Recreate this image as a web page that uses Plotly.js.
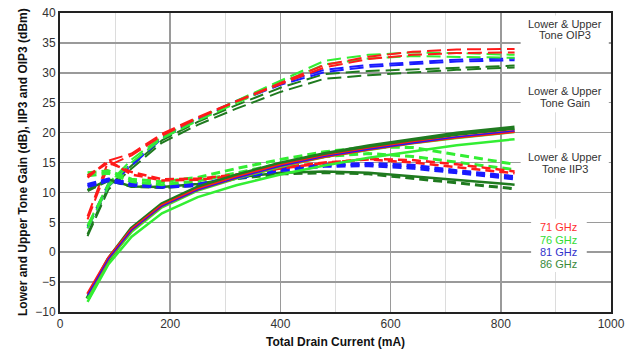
<!DOCTYPE html>
<html><head><meta charset="utf-8">
<script src="https://cdn.plot.ly/plotly-3.0.1.min.js"></script>
<style>html,body{margin:0;padding:0;background:#fff}#chart{width:635px;height:352px}</style>
</head><body><div id="chart"></div>
<script>
// Total drain current (mA)
const current = [50, 88, 130, 185, 250, 320, 400, 480, 560, 640, 720, 825];

// Gain (dB) - solid
const gain71   = [-7.0, -1.0, 3.8, 7.8, 10.5, 12.5, 14.5, 16.0, 17.2, 18.3, 19.2, 20.2];
const gain76L  = [-8.3, -2.0, 2.6, 6.5, 9.2, 11.2, 13.0, 14.5, 15.8, 16.9, 17.9, 18.9];
const gain76U  = [-7.8, -1.3, 3.4, 7.5, 10.3, 12.3, 14.3, 15.9, 17.1, 18.2, 19.1, 20.1];
const gain81   = [-7.2, -1.1, 3.7, 7.7, 10.4, 12.4, 14.4, 16.0, 17.2, 18.3, 19.3, 20.3];
const gain86   = [-7.8, -1.2, 3.9, 8.0, 10.8, 12.8, 14.8, 16.4, 17.7, 18.8, 19.8, 20.8];

// IIP3 (dBm) - short dash
const iip3_71L = [12.5, 15.3, 13.0, 12.0, 12.1, 12.8, 14.0, 14.9, 15.6, 15.4, 14.7, 13.5];
const iip3_71U = [12.8, 15.0, 13.4, 12.2, 12.3, 13.0, 14.2, 15.0, 15.5, 15.0, 14.2, 13.2];
const iip3_76U = [13.3, 13.6, 12.2, 11.8, 12.5, 14.0, 15.5, 16.8, 17.6, 17.5, 16.3, 14.7];
const iip3_76L = [12.8, 13.2, 11.8, 11.3, 11.9, 13.2, 14.8, 16.0, 16.5, 16.0, 15.0, 13.8];
const iip3_81L = [11.3, 12.2, 11.5, 11.0, 11.3, 12.5, 14.0, 14.6, 14.8, 14.5, 13.6, 12.6];
const iip3_81U = [11.0, 12.0, 11.2, 10.9, 11.2, 12.3, 13.7, 14.4, 14.5, 14.1, 13.3, 12.3];
const iip3_86L = [10.3, 12.0, 11.0, 10.8, 11.2, 12.3, 13.1, 13.3, 13.1, 12.4, 11.6, 10.6];
const iip3_86U = [10.4, 12.2, 11.0, 10.9, 11.4, 12.5, 13.3, 13.5, 13.3, 12.7, 12.0, 11.3];

// OIP3 (dBm) - long dash
const oip3_71L = [6.0, 15.3, 16.5, 19.8, 22.6, 25.3, 28.3, 31.3, 32.7, 33.5, 33.9, 34.0];
const oip3_71U = [5.5, 14.5, 16.2, 19.5, 22.4, 25.2, 28.1, 30.9, 32.3, 33.0, 33.3, 33.4];
const oip3_76U = [4.5, 11.5, 15.5, 19.3, 22.4, 25.3, 28.7, 32.0, 33.0, 33.4, 33.3, 33.0];
const oip3_76L = [4.0, 11.0, 15.0, 19.0, 22.0, 25.0, 28.3, 31.4, 32.4, 32.8, 32.7, 32.5];
const oip3_81L = [4.3, 11.5, 14.8, 19.2, 22.4, 25.3, 28.3, 30.5, 31.3, 31.8, 32.2, 32.4];
const oip3_81U = [4.0, 11.0, 14.5, 19.0, 22.2, 25.1, 28.0, 30.1, 31.0, 31.5, 31.9, 32.1];
const oip3_86L = [3.0, 11.0, 14.5, 18.7, 21.8, 24.6, 27.5, 29.8, 30.3, 30.6, 30.9, 31.2];
const oip3_86U = [2.7, 10.5, 14.0, 18.3, 21.3, 24.0, 26.8, 29.0, 29.6, 30.1, 30.5, 30.9];

const xTicks = [0, 200, 400, 600, 800, 1000];
const yTicks = [-10, -5, 0, 5, 10, 15, 20, 25, 30, 35, 40];
const freqLabels = ['71 GHz', '76 GHz', '81 GHz', '86 GHz'];
const groupLabels = [['Lower & Upper', 'Tone OIP3'], ['Lower & Upper', 'Tone Gain'], ['Lower & Upper', 'Tone IIP3']];

const RED = '#ff1a1a', GRN = '#33ee33', BLU = '#1a1aff', DGN = '#1f7a1f';
const OIP = '14px,6px', IIP = '9px,5px';

function tr(y, color, width, dash) {
  return {x: current, y: y, type: 'scatter', mode: 'lines',
          line: {color: color, width: width, dash: dash || 'solid'}, hoverinfo: 'skip', showlegend: false};
}

const data = [
  // OIP3
  tr(oip3_86U, DGN, 2, OIP), tr(oip3_86L, DGN, 2, OIP),
  tr(oip3_81U, BLU, 2, OIP), tr(oip3_81L, BLU, 2, OIP),
  tr(oip3_76L, GRN, 2, OIP), tr(oip3_76U, GRN, 2, OIP),
  tr(oip3_71U, RED, 2, OIP), tr(oip3_71L, RED, 2, OIP),
  // IIP3
  tr(iip3_86L, DGN, 3, IIP), tr(iip3_86U, DGN, 2.5, 'solid'),
  tr(iip3_81U, BLU, 3.5, IIP), tr(iip3_81L, BLU, 3.5, IIP),
  tr(iip3_76L, GRN, 3, IIP), tr(iip3_76U, GRN, 3, IIP),
  tr(iip3_71U, RED, 2.5, IIP), tr(iip3_71L, RED, 2.5, IIP),
  // Gain
  tr(gain86, DGN, 4.5), tr(gain76L, GRN, 2.5), tr(gain76U, GRN, 2.5),
  tr(gain71, RED, 3), tr(gain81, BLU, 1.2)
];

const txt = '#333';
const ann = [];
const gy = [[38.2, 36.3], [27.0, 25.0], [15.9, 13.9]];
groupLabels.forEach((g, i) => {
  g.forEach((t, j) => ann.push({x: 916, y: gy[i][j], xref: 'x', yref: 'y', text: t, showarrow: false,
    font: {family: 'Liberation Sans, Arial, sans-serif', size: 11, color: txt}}));
});
const legColors = ['#ff3030', '#33dd33', '#3333cc', '#3a8a3a'];
const ly = [4.2, 2.1, 0.0, -2.0];
freqLabels.forEach((t, i) => ann.push({x: 905, y: ly[i], xref: 'x', yref: 'y', text: t, showarrow: false,
  font: {family: 'Liberation Sans, Arial, sans-serif', size: 11, color: legColors[i]}}));
// axis titles
ann.push({x: 0.5, y: -0.102, xref: 'paper', yref: 'paper', yanchor: 'middle', showarrow: false,
  text: '<b>Total Drain Current (mA)</b>', font: {family: 'Liberation Sans, Arial, sans-serif', size: 12, color: '#111'}});
ann.push({x: -0.068, y: 0.5, xref: 'paper', yref: 'paper', xanchor: 'center', showarrow: false, textangle: -90,
  text: '<b>Lower and Upper Tone Gain (dB), IIP3 and OIP3 (dBm)</b>', font: {family: 'Liberation Sans, Arial, sans-serif', size: 12, color: '#111'}});

const white = (x0, x1, y0, y1) => ({type: 'rect', xref: 'x', yref: 'y', x0: x0, x1: x1, y0: y0, y1: y1,
  fillcolor: '#fff', line: {width: 0}, layer: 'between'});
const shapes = [white(836, 996, 34.2, 39.6), white(836, 996, 23.4, 28.5), white(836, 996, 12.4, 17.4),
  white(855, 956, -3.3, 5.6)];

const layout = {
  width: 635, height: 352,
  margin: {l: 60, r: 24, t: 13, b: 40},
  paper_bgcolor: '#fff', plot_bgcolor: '#fff',
  showlegend: false,
  font: {family: 'Liberation Sans, Arial, sans-serif', size: 12, color: txt},
  xaxis: {range: [0, 1000], tickvals: xTicks, ticks: '', showgrid: true, gridcolor: '#9a9a9a', gridwidth: 1.5,
    minor: {dtick: 100, showgrid: true, gridcolor: '#dcdcdc', gridwidth: 1},
    showline: true, linecolor: '#222', linewidth: 2, mirror: true, zeroline: false,
    tickfont: {size: 12, color: txt}},
  yaxis: {range: [-10, 40], tickvals: yTicks, ticks: '', showgrid: true, gridcolor: '#9a9a9a', gridwidth: 1.5,
    showline: true, linecolor: '#222', linewidth: 2, mirror: true, zeroline: false,
    tickfont: {size: 12, color: txt}},
  annotations: ann,
  shapes: shapes
};

Plotly.newPlot('chart', data, layout, {staticPlot: true, displayModeBar: false});
</script></body></html>
